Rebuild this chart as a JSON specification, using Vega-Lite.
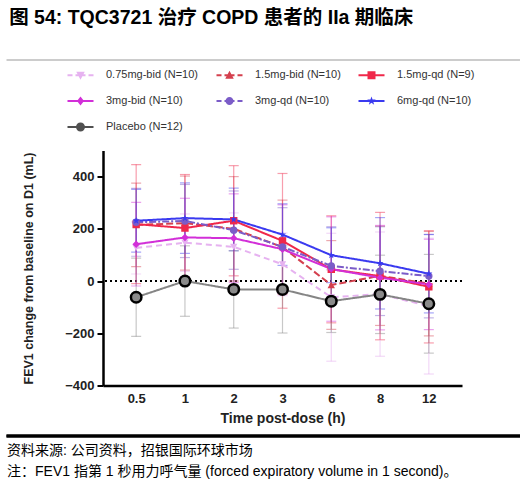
{
  "$schema": "https://vega.github.io/schema/vega-lite/v6.json",
  "padding": 5,
  "background": "white",
  "config": {
    "view": {"stroke": null},
    "font": "Liberation Sans, Noto Sans CJK SC"
  },
  "datasets": {
    "fev": [
      {"s": "0.75mg-bid (N=10)", "t": 0.5, "m": 127, "lo": 27, "hi": 227},
      {"s": "0.75mg-bid (N=10)", "t": 1, "m": 147, "lo": 37, "hi": 257},
      {"s": "0.75mg-bid (N=10)", "t": 2, "m": 131, "lo": 1, "hi": 261},
      {"s": "0.75mg-bid (N=10)", "t": 3, "m": 64, "lo": -56, "hi": 184},
      {"s": "0.75mg-bid (N=10)", "t": 6, "m": -62, "lo": -307, "hi": 183},
      {"s": "0.75mg-bid (N=10)", "t": 8, "m": -50, "lo": -288, "hi": 188},
      {"s": "0.75mg-bid (N=10)", "t": 12, "m": -96, "lo": -356, "hi": 164},
      {"s": "1.5mg-bid (N=10)", "t": 0.5, "m": 215, "lo": 55, "hi": 375},
      {"s": "1.5mg-bid (N=10)", "t": 1, "m": 222, "lo": 42, "hi": 402},
      {"s": "1.5mg-bid (N=10)", "t": 2, "m": 200, "lo": 0, "hi": 400},
      {"s": "1.5mg-bid (N=10)", "t": 3, "m": 130, "lo": -50, "hi": 310},
      {"s": "1.5mg-bid (N=10)", "t": 6, "m": -15, "lo": -185, "hi": 155},
      {"s": "1.5mg-bid (N=10)", "t": 8, "m": 20, "lo": -170, "hi": 210},
      {"s": "1.5mg-bid (N=10)", "t": 12, "m": -10, "lo": -210, "hi": 190},
      {"s": "1.5mg-qd (N=9)", "t": 0.5, "m": 218, "lo": -10, "hi": 446},
      {"s": "1.5mg-qd (N=9)", "t": 1, "m": 203, "lo": -2, "hi": 408},
      {"s": "1.5mg-qd (N=9)", "t": 2, "m": 231, "lo": 20, "hi": 442},
      {"s": "1.5mg-qd (N=9)", "t": 3, "m": 154, "lo": -104, "hi": 412},
      {"s": "1.5mg-qd (N=9)", "t": 6, "m": 45, "lo": -160, "hi": 250},
      {"s": "1.5mg-qd (N=9)", "t": 8, "m": 19, "lo": -225, "hi": 263},
      {"s": "1.5mg-qd (N=9)", "t": 12, "m": -22, "lo": -237, "hi": 193},
      {"s": "3mg-bid (N=10)", "t": 0.5, "m": 141, "lo": -19, "hi": 301},
      {"s": "3mg-bid (N=10)", "t": 1, "m": 167, "lo": 17, "hi": 317},
      {"s": "3mg-bid (N=10)", "t": 2, "m": 164, "lo": -6, "hi": 334},
      {"s": "3mg-bid (N=10)", "t": 3, "m": 122, "lo": -48, "hi": 292},
      {"s": "3mg-bid (N=10)", "t": 6, "m": 46, "lo": -154, "hi": 246},
      {"s": "3mg-bid (N=10)", "t": 8, "m": 13, "lo": -187, "hi": 213},
      {"s": "3mg-bid (N=10)", "t": 12, "m": -13, "lo": -186, "hi": 160},
      {"s": "3mg-qd (N=10)", "t": 0.5, "m": 225, "lo": 95, "hi": 355},
      {"s": "3mg-qd (N=10)", "t": 1, "m": 230, "lo": 90, "hi": 370},
      {"s": "3mg-qd (N=10)", "t": 2, "m": 195, "lo": 45, "hi": 345},
      {"s": "3mg-qd (N=10)", "t": 3, "m": 131, "lo": -19, "hi": 281},
      {"s": "3mg-qd (N=10)", "t": 6, "m": 58, "lo": -92, "hi": 208},
      {"s": "3mg-qd (N=10)", "t": 8, "m": 38, "lo": -132, "hi": 208},
      {"s": "3mg-qd (N=10)", "t": 12, "m": 19, "lo": -141, "hi": 179},
      {"s": "6mg-qd (N=10)", "t": 0.5, "m": 231, "lo": 111, "hi": 351},
      {"s": "6mg-qd (N=10)", "t": 1, "m": 241, "lo": 106, "hi": 376},
      {"s": "6mg-qd (N=10)", "t": 2, "m": 236, "lo": 116, "hi": 356},
      {"s": "6mg-qd (N=10)", "t": 3, "m": 178, "lo": 60, "hi": 296},
      {"s": "6mg-qd (N=10)", "t": 6, "m": 99, "lo": -6, "hi": 204},
      {"s": "6mg-qd (N=10)", "t": 8, "m": 68, "lo": -107, "hi": 243},
      {"s": "6mg-qd (N=10)", "t": 12, "m": 28, "lo": -122, "hi": 178},
      {"s": "Placebo (N=12)", "t": 0.5, "m": -62, "lo": -212, "hi": 88},
      {"s": "Placebo (N=12)", "t": 1, "m": 0, "lo": -135, "hi": 135},
      {"s": "Placebo (N=12)", "t": 2, "m": -32, "lo": -180, "hi": 116},
      {"s": "Placebo (N=12)", "t": 3, "m": -32, "lo": -199, "hi": 135},
      {"s": "Placebo (N=12)", "t": 6, "m": -77, "lo": -197, "hi": 43},
      {"s": "Placebo (N=12)", "t": 8, "m": -51, "lo": -201, "hi": 99},
      {"s": "Placebo (N=12)", "t": 12, "m": -87, "lo": -276, "hi": 102}
    ]
  },
  "vconcat": [
    {
      "width": 417,
      "height": 55,
      "data": {"values": [{"t": "图 54: TQC3721 治疗 COPD 患者的 IIa 期临床"}]},
      "encoding": {
        "y": {"datum": 0, "type": "quantitative", "scale": {"domain": [0, 1]}, "axis": null}
      },
      "layer": [
        {
          "mark": {"type": "rule", "color": "#9a9a9a", "strokeWidth": 1.2},
          "encoding": {
            "x": {"datum": -0.2314, "type": "quantitative", "scale": {"domain": [0, 1], "nice": false, "zero": false}, "axis": null},
            "x2": {"datum": 1}
          }
        },
        {
          "mark": {"type": "text", "align": "left", "baseline": "middle", "fontSize": 19.5, "fontWeight": "bold", "color": "black"},
          "encoding": {
            "text": {"field": "t"},
            "x": {"datum": -0.225, "type": "quantitative", "axis": null},
            "y": {"datum": 0.76, "type": "quantitative", "axis": null}
          }
        }
      ]
    },
    {
      "width": 359,
      "height": 235,
      "data": {"name": "fev"},
      "layer": [
        {
          "mark": {"type": "rule", "strokeDash": [2, 3], "strokeWidth": 1.6, "color": "black"},
          "encoding": {"y": {"datum": 0, "type": "quantitative"}}
        },
        {
          "mark": {"type": "errorbar", "ticks": {"size": 10}, "opacity": 0.45, "thickness": 1.2},
          "encoding": {
            "x": {"field": "t", "type": "ordinal", "scale": {"type": "point", "padding": 0.68},
              "axis": {"domainColor": "black", "domainWidth": 2.5, "ticks": false, "labelAngle": 0, "labelFontSize": 13, "labelFontWeight": "bold", "labelColor": "#222", "labelPadding": 7, "titleFontSize": 14, "titleFontWeight": "bold", "titleColor": "#222", "titlePadding": 6},
              "title": "Time post-dose (h)"},
            "y": {"field": "lo", "type": "quantitative", "scale": {"domain": [-400, 500], "nice": false},
              "axis": {"values": [-400, -200, 0, 200, 400], "grid": false, "domainColor": "black", "domainWidth": 2.5, "tickColor": "black", "tickWidth": 2, "tickSize": 6, "labelFontSize": 13, "labelFontWeight": "bold", "labelColor": "#222", "labelPadding": 3, "titleFontSize": 12.5, "titleFontWeight": "bold", "titleColor": "#222", "titlePadding": 29},
              "title": "FEV1 change from baseline on D1 (mL)"},
            "y2": {"field": "hi"},
            "color": {"field": "s", "type": "nominal", "legend": null,
              "scale": {"domain": ["0.75mg-bid (N=10)", "1.5mg-bid (N=10)", "1.5mg-qd (N=9)", "3mg-bid (N=10)", "3mg-qd (N=10)", "6mg-qd (N=10)", "Placebo (N=12)"],
                "range": ["#e2a9ee", "#d4404e", "#f0284a", "#d22fd8", "#7b5cc8", "#3a3af0", "#858585"]}}
          }
        },
        {
          "mark": {"type": "line", "strokeWidth": 2},
          "encoding": {
            "x": {"field": "t", "type": "ordinal", "title": "Time post-dose (h)"},
            "y": {"field": "m", "type": "quantitative", "title": "FEV1 change from baseline on D1 (mL)"},
            "color": {"field": "s", "type": "nominal", "legend": null,
              "scale": {"domain": ["0.75mg-bid (N=10)", "1.5mg-bid (N=10)", "1.5mg-qd (N=9)", "3mg-bid (N=10)", "3mg-qd (N=10)", "6mg-qd (N=10)", "Placebo (N=12)"],
                "range": ["#e6b2f0", "#d4404e", "#f0284a", "#d22fd8", "#7b5cc8", "#3a3af0", "#858585"]}},
            "strokeDash": {"field": "s", "type": "nominal", "legend": null,
              "scale": {"domain": ["0.75mg-bid (N=10)", "1.5mg-bid (N=10)", "1.5mg-qd (N=9)", "3mg-bid (N=10)", "3mg-qd (N=10)", "6mg-qd (N=10)", "Placebo (N=12)"],
                "range": [[6, 4], [7, 3], [1, 0], [1, 0], [7, 2, 2, 2], [1, 0], [1, 0]]}}
          }
        },
        {
          "transform": [{"filter": "datum.s !== 'Placebo (N=12)'"}],
          "mark": {"type": "point", "filled": true, "size": 55, "opacity": 1},
          "encoding": {
            "x": {"field": "t", "type": "ordinal", "title": "Time post-dose (h)"},
            "y": {"field": "m", "type": "quantitative", "title": "FEV1 change from baseline on D1 (mL)"},
            "color": {"field": "s", "type": "nominal", "legend": null,
              "scale": {"domain": ["0.75mg-bid (N=10)", "1.5mg-bid (N=10)", "1.5mg-qd (N=9)", "3mg-bid (N=10)", "3mg-qd (N=10)", "6mg-qd (N=10)", "Placebo (N=12)"],
                "range": ["#e6b2f0", "#d4404e", "#f0284a", "#d22fd8", "#7b5cc8", "#3a3af0", "#858585"]}},
            "shape": {"field": "s", "type": "nominal", "legend": null,
              "scale": {"domain": ["0.75mg-bid (N=10)", "1.5mg-bid (N=10)", "1.5mg-qd (N=9)", "3mg-bid (N=10)", "3mg-qd (N=10)", "6mg-qd (N=10)", "Placebo (N=12)"],
                "range": ["triangle-down", "triangle-up", "square", "diamond", "circle", "M0,-1L0.235,-0.324L0.951,-0.309L0.38,0.124L0.588,0.809L0,0.4L-0.588,0.809L-0.38,0.124L-0.951,-0.309L-0.235,-0.324Z", "circle"]}}
          }
        },
        {
          "transform": [{"filter": "datum.s === 'Placebo (N=12)'"}],
          "mark": {"type": "point", "shape": "circle", "filled": true, "fill": "#8a8a8a", "stroke": "black", "strokeWidth": 2.5, "size": 110, "opacity": 1},
          "encoding": {
            "x": {"field": "t", "type": "ordinal", "title": "Time post-dose (h)"},
            "y": {"field": "m", "type": "quantitative", "title": "FEV1 change from baseline on D1 (mL)"}
          }
        },
        {
          "mark": {"type": "point", "filled": true, "opacity": 0},
          "encoding": {
            "x": {"field": "t", "type": "ordinal", "title": "Time post-dose (h)"},
            "y": {"field": "m", "type": "quantitative", "title": "FEV1 change from baseline on D1 (mL)"},
            "color": {"field": "s", "type": "nominal",
              "scale": {"domain": ["0.75mg-bid (N=10)", "1.5mg-bid (N=10)", "1.5mg-qd (N=9)", "3mg-bid (N=10)", "3mg-qd (N=10)", "6mg-qd (N=10)", "Placebo (N=12)"],
                "range": ["#e6b2f0", "#d4404e", "#f0284a", "#d22fd8", "#7b5cc8", "#3a3af0", "#505050"]},
              "legend": {"title": null, "orient": "none", "legendX": -36, "legendY": -81, "columns": 3, "direction": "horizontal", "columnPadding": 17, "rowPadding": 14, "labelFontSize": 11, "labelColor": "#333", "symbolSize": 100, "symbolOpacity": 1, "symbolStrokeWidth": 0, "labelOffset": 28, "padding": 0}},
            "shape": {"field": "s", "type": "nominal",
              "scale": {"domain": ["0.75mg-bid (N=10)", "1.5mg-bid (N=10)", "1.5mg-qd (N=9)", "3mg-bid (N=10)", "3mg-qd (N=10)", "6mg-qd (N=10)", "Placebo (N=12)"],
                "range": [
                  "M-1,-0.2H0V0.2H-1Z M0.6,-0.2H2.6V0.2H0.6Z M3.2,-0.2H4.2V0.2H3.2Z M0.75,-0.7L2.45,-0.7L1.6,0.9Z",
                  "M-1,-0.2H0V0.2H-1Z M0.6,-0.2H2.6V0.2H0.6Z M3.2,-0.2H4.2V0.2H3.2Z M1.6,-0.9L2.45,0.7L0.75,0.7Z",
                  "M-1,-0.2H4.2V0.2H-1Z M0.8,-0.8H2.4V0.8H0.8Z",
                  "M-1,-0.2H4.2V0.2H-1Z M1.6,-0.9L2.3,0L1.6,0.9L0.9,0Z",
                  "M-1,-0.2H0V0.2H-1Z M0.6,-0.2H2.6V0.2H0.6Z M3.2,-0.2H4.2V0.2H3.2Z M0.8,0A0.8,0.8 0 1,1 2.4,0A0.8,0.8 0 1,1 0.8,0Z",
                  "M-1,-0.2H4.2V0.2H-1Z M1.6,-0.9L1.812,-0.291L2.456,-0.278L1.942,0.111L2.129,0.728L1.6,0.36L1.071,0.728L1.258,0.111L0.744,-0.278L1.388,-0.291Z",
                  "M-1,-0.2H4.2V0.2H-1Z M0.7,0A0.9,0.9 0 1,1 2.5,0A0.9,0.9 0 1,1 0.7,0Z"
                ]},
              "legend": {"title": null, "orient": "none", "legendX": -36, "legendY": -81, "columns": 3, "direction": "horizontal", "columnPadding": 17, "rowPadding": 14, "labelFontSize": 11, "labelColor": "#333", "symbolSize": 100, "symbolOpacity": 1, "symbolStrokeWidth": 0, "labelOffset": 28, "padding": 0}}
          }
        }
      ],
      "resolve": {"scale": {"color": "independent", "shape": "independent"}}
    },
    {
      "width": 417,
      "height": 45,
      "data": {"values": [
        {"row": 1, "t": "资料来源: 公司资料，招银国际环球市场"},
        {"row": 2, "t": "注：FEV1 指第 1 秒用力呼气量 (forced expiratory volume in 1 second)。"}
      ]},
      "layer": [
        {
          "mark": {"type": "rule", "color": "black", "strokeWidth": 3},
          "encoding": {
            "x": {"datum": -0.2314, "type": "quantitative", "scale": {"domain": [0, 1], "nice": false, "zero": false}, "axis": null},
            "x2": {"datum": 1},
            "y": {"datum": 0.2857, "type": "quantitative", "scale": {"domain": [0.2857, 2.4286], "reverse": true, "nice": false, "zero": false}, "axis": null}
          }
        },
        {
          "mark": {"type": "text", "align": "left", "baseline": "middle", "fontSize": 14, "color": "black"},
          "encoding": {
            "text": {"field": "t"},
            "x": {"datum": -0.2302, "type": "quantitative", "axis": null},
            "y": {"field": "row", "type": "quantitative", "axis": null}
          }
        }
      ]
    }
  ],
  "spacing": 8.5
}
